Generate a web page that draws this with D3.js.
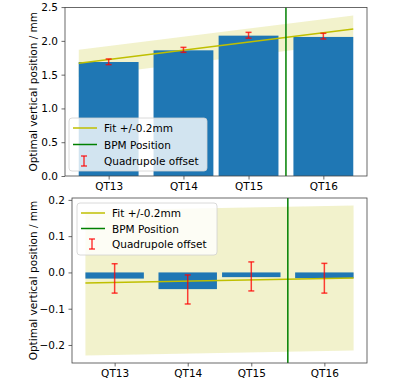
<!DOCTYPE html>
<html>
<head>
<meta charset="utf-8">
<script src="https://cdn.jsdelivr.net/npm/d3@7"></script>
<style>
  html, body { margin: 0; padding: 0; background: #fff; }
  svg text { font-family: "DejaVu Sans", sans-serif; }
</style>
</head>
<body>
<svg id="chart" width="400" height="381"></svg>
<script>
// ── data ──────────────────────────────────────
const quads    = ['QT13', 'QT14', 'QT15', 'QT16'];
const quadPos  = [0, 1.0, 1.87, 2.87];   // longitudinal position (arb.)
const bpmPos   = 2.37;
const barWidth = 0.8;
const fitTol   = 0.2;

// upper panel: absolute
const optPos     = [1.687, 1.86, 2.077, 2.058];
const quadOff    = [1.69, 1.867, 2.083, 2.07];
const quadOffErr = [0.042, 0.037, 0.043, 0.042];
const fitEnds    = [1.667, 2.175];       // fit at left / right end of bar span

// lower panel: residual
const resPos     = [-0.017, -0.046, -0.013, -0.016];
const resOff     = [-0.0165, -0.047, -0.011, -0.016];
const resOffErr  = [0.0405, 0.04, 0.04, 0.041];
const resFitEnds = [-0.029, -0.0155];

const topTicks    = [0, 0.5, 1.0, 1.5, 2.0, 2.5];
const bottomTicks = [-0.2, -0.1, 0.0, 0.1, 0.2];

const legendLabels = ['Fit +/-0.2mm', 'BPM Position', 'Quadrupole offset'];

const C = { bar: '#1f77b4', fit: '#bfbf00', band: 'rgba(191,191,0,0.2)', bpm: '#008000', err: 'rgba(255,0,0,0.75)', spine: '#444' };
const FS = 10.5;

const svg = d3.select('#chart');

function drawPanel(o) {
  const g = svg.append('g');
  const xLo = quadPos[0] - barWidth / 2, xHi = quadPos[quadPos.length - 1] + barWidth / 2;
  const xm = (xHi - xLo) * 0.05;
  const x = d3.scaleLinear().domain([xLo - xm, xHi + xm]).range([o.left, o.right]);
  const y = d3.scaleLinear().domain(o.yDomain).range([o.bottom, o.top]);

  // fit band (behind bars)
  const fitPts = [[xLo, o.fit[0]], [xHi, o.fit[1]]];
  g.append('path')
    .attr('d', d3.area().x(d => x(d[0])).y0(d => y(d[1] - fitTol)).y1(d => y(d[1] + fitTol))(fitPts))
    .attr('fill', C.band);

  // bars
  g.selectAll('.bar').data(o.bars).enter().append('rect')
    .attr('x', (d, i) => x(quadPos[i] - barWidth / 2))
    .attr('width', (d, i) => x(quadPos[i] + barWidth / 2) - x(quadPos[i] - barWidth / 2))
    .attr('y', d => y(Math.max(0, d)))
    .attr('height', d => Math.abs(y(d) - y(0)))
    .attr('fill', C.bar);

  // fit line
  g.append('path')
    .attr('d', d3.line().x(d => x(d[0])).y(d => y(d[1]))(fitPts))
    .attr('stroke', C.fit).attr('stroke-width', 1.5).attr('fill', 'none');

  // bpm
  g.append('line')
    .attr('x1', x(bpmPos)).attr('x2', x(bpmPos))
    .attr('y1', o.top).attr('y2', o.bottom)
    .attr('stroke', C.bpm).attr('stroke-width', 1.5);

  // error bars
  o.off.forEach((v, i) => {
    const cx = x(quadPos[i]);
    const y1 = y(v + o.err[i]), y2 = y(v - o.err[i]);
    const eg = g.append('g').attr('stroke', C.err).attr('stroke-width', 1.5);
    eg.append('line').attr('x1', cx).attr('x2', cx).attr('y1', y1).attr('y2', y2);
    eg.append('line').attr('x1', cx - 3).attr('x2', cx + 3).attr('y1', y1).attr('y2', y1);
    eg.append('line').attr('x1', cx - 3).attr('x2', cx + 3).attr('y1', y2).attr('y2', y2);
  });

  // axes
  const ax = g.append('g').attr('transform', `translate(0,${o.bottom})`)
    .call(d3.axisBottom(x).tickValues(quadPos).tickFormat((d, i) => quads[i]).tickSize(3.5).tickPadding(3.5));
  const ay = g.append('g').attr('transform', `translate(${o.left},0)`)
    .call(d3.axisLeft(y).tickValues(o.ticks).tickFormat(d3.format('.1f')).tickSize(3.5).tickPadding(3.5));
  [ax, ay].forEach(a => {
    a.select('.domain').remove();
    a.selectAll('line').attr('stroke', C.spine).attr('stroke-width', 0.8);
    a.selectAll('text').attr('font-size', FS).attr('fill', '#000').attr('font-family', '"DejaVu Sans", sans-serif');
  });

  g.append('rect')
    .attr('x', o.left).attr('y', o.top)
    .attr('width', o.right - o.left).attr('height', o.bottom - o.top)
    .attr('fill', 'none').attr('stroke', C.spine).attr('stroke-width', 0.8);

  // y label
  g.append('text')
    .attr('transform', `translate(33,${(o.top + o.bottom) / 2}) rotate(-90)`)
    .attr('text-anchor', 'middle').attr('dominant-baseline', 'central')
    .attr('font-size', FS)
    .text('Optimal vertical position / mm');

  // legend
  const L = o.legend;
  const lg = g.append('g');
  lg.append('rect')
    .attr('x', L.x).attr('y', L.y).attr('width', L.w).attr('height', L.h)
    .attr('rx', 3).attr('fill', 'rgba(255,255,255,0.8)').attr('stroke', '#d0d0d0').attr('stroke-width', 0.8);
  legendLabels.forEach((lab, i) => {
    const ry = L.y + 10 + i * L.step;
    const sx = L.x + 4;
    if (i === 0 || i === 1) {
      lg.append('line').attr('x1', sx).attr('x2', sx + 24).attr('y1', ry).attr('y2', ry)
        .attr('stroke', i === 0 ? C.fit : C.bpm).attr('stroke-width', 1.5);
    } else {
      const cx = sx + 11;
      const eg = lg.append('g').attr('stroke', C.err).attr('stroke-width', 1.5);
      eg.append('line').attr('x1', cx).attr('x2', cx).attr('y1', ry - 5).attr('y2', ry + 5);
      eg.append('line').attr('x1', cx - 3).attr('x2', cx + 3).attr('y1', ry - 5).attr('y2', ry - 5);
      eg.append('line').attr('x1', cx - 3).attr('x2', cx + 3).attr('y1', ry + 5).attr('y2', ry + 5);
    }
    lg.append('text').attr('x', L.x + 35).attr('y', ry).attr('dominant-baseline', 'central')
      .attr('font-size', FS).text(lab);
  });
}

// upper panel: matplotlib-like auto limits (0 sticky, 5% top margin)
const topMax = Math.max(fitEnds[0], fitEnds[1]) + fitTol;
drawPanel({
  left: 65, right: 367, top: 7.5, bottom: 176,
  yDomain: [0, topMax * 1.05],
  ticks: topTicks,
  bars: optPos, off: quadOff, err: quadOffErr, fit: fitEnds,
  legend: { x: 69, y: 118, w: 138, h: 53, step: 16.5 }
});

const rLo = Math.min(resFitEnds[0], resFitEnds[1]) - fitTol;
const rHi = Math.max(resFitEnds[0], resFitEnds[1]) + fitTol;
const rm = (rHi - rLo) * 0.05;
drawPanel({
  left: 72, right: 367, top: 198, bottom: 363,
  yDomain: [rLo - rm, rHi + rm],
  ticks: bottomTicks,
  bars: resPos, off: resOff, err: resOffErr, fit: resFitEnds,
  legend: { x: 77, y: 203, w: 140, h: 52, step: 15.5 }
});
</script>
</body>
</html>
